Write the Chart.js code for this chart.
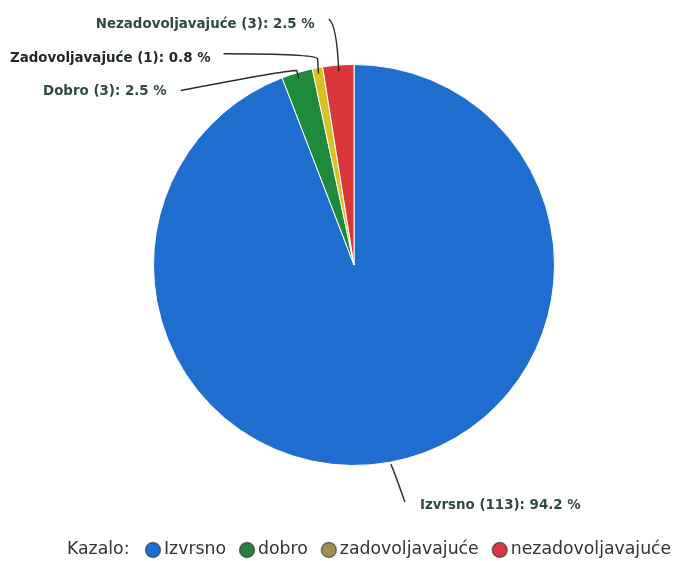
<!DOCTYPE html>
<html>
<head>
<meta charset="utf-8">
<script src="https://cdn.jsdelivr.net/npm/chart.js@4.4.0/dist/chart.umd.min.js"></script>
<style>
  html, body { margin: 0; padding: 0; background: #fff; }
  #wrap { width: 683px; height: 561px; }
</style>
</head>
<body>
<div id="wrap"><canvas id="pita" width="683" height="561"></canvas></div>
<script>
// podaci
const kategorije = ['Izvrsno', 'Dobro', 'Zadovoljavajuće', 'Nezadovoljavajuće']
const legendaNazivi = ['Izvrsno', 'dobro', 'zadovoljavajuće', 'nezadovoljavajuće']
const brojOcjena = [113, 3, 1, 3]
const boje = ['#1f6ecf', '#208a3c', '#d6c322', '#d8363b']
const bojeLegende = ['#1f6ecf', '#26813f', '#a38f4c', '#d23a44']

const ukupno = brojOcjena.reduce((a, b) => a + b, 0)

// oblik linija do natpisa (pomaci od ruba kriske) i poravnanje natpisa
// r = pomak od ruba kriske po polumjeru
const oblici = [
    { r: 2, tocke: [[5, 12], [14, 38]], tekst: [15, 3], align: 'left' },
    { r: -6, tocke: [[-2, -8], [-14, -8], [-118, 12]], tekst: [-14, 1], align: 'right' },
    { r: -6, tocke: [[-1, -15], [-3, -20], [-95, -20]], tekst: [-13, 5], align: 'right' },
    { r: -6, tocke: [[-2, -47], [-10, -52]], tekst: [-14, 5], align: 'right' }
]

const natpisi = {
    id: 'natpisi',
    afterDraw(chart) {
        const ctx = chart.ctx
        const meta = chart.getDatasetMeta(0)
        ctx.save()
        meta.data.forEach((arc, i) => {
            const p = arc.getProps(['x', 'y', 'startAngle', 'endAngle', 'outerRadius'], true)
            const kut = (p.startAngle + p.endAngle) / 2
            const o = oblici[i]
            const ex = p.x + Math.cos(kut) * (p.outerRadius + o.r)
            const ey = p.y + Math.sin(kut) * (p.outerRadius + o.r)
            ctx.strokeStyle = '#2b2b2b'
            ctx.lineWidth = 1.4
            ctx.beginPath()
            ctx.moveTo(ex, ey)
            let zx = ex, zy = ey
            if (o.tocke.length === 2) {
                const c = o.tocke[0], k = o.tocke[1]
                ctx.quadraticCurveTo(ex + c[0], ey + c[1], ex + k[0], ey + k[1])
                zx = ex + k[0]; zy = ey + k[1]
            } else {
                const a = o.tocke[0], b = o.tocke[1], k = o.tocke[2]
                ctx.lineTo(ex + a[0], ey + a[1])
                ctx.quadraticCurveTo(ex + b[0], ey + b[1], ex + k[0], ey + k[1])
                zx = ex + k[0]; zy = ey + k[1]
            }
            ctx.stroke()
            const postotak = (brojOcjena[i] / ukupno * 100).toFixed(1)
            const tekst = kategorije[i] + ' (' + brojOcjena[i] + '): ' + postotak + ' %'
            ctx.font = 'bold 13.4px "DejaVu Sans"'
            ctx.fillStyle = i === 2 ? '#1e2821' : '#2f4a3b'
            ctx.textAlign = o.align
            ctx.textBaseline = 'middle'
            ctx.fillText(tekst, zx + o.tekst[0], zy + o.tekst[1])
        })

        // kazalo (legenda)
        ctx.font = '17.3px "DejaVu Sans"'
        ctx.textBaseline = 'middle'
        ctx.textAlign = 'left'
        ctx.fillStyle = '#333'
        const ly = 550
        let x = 67
        ctx.fillText('Kazalo:', x, ly)
        x += 78
        legendaNazivi.forEach((naziv, i) => {
            ctx.beginPath()
            ctx.arc(x + 8, ly, 7.5, 0, Math.PI * 2)
            ctx.fillStyle = bojeLegende[i]
            ctx.fill()
            ctx.lineWidth = 1.5
            ctx.strokeStyle = 'rgba(40,40,40,0.55)'
            ctx.stroke()
            x += 19
            ctx.fillStyle = '#333'
            ctx.fillText(naziv, x, ly)
            x += ctx.measureText(naziv).width + 13
        })
        ctx.restore()
    }
}

new Chart(document.getElementById('pita'), {
    type: 'pie',
    data: {
        labels: kategorije,
        datasets: [{
            data: brojOcjena,
            backgroundColor: boje,
            borderColor: '#ffffff',
            borderWidth: 1
        }]
    },
    options: {
        responsive: false,
        animation: false,
        layout: { padding: { top: 64, bottom: 95, left: 153, right: 128 } },
        plugins: {
            legend: { display: false },
            tooltip: { enabled: false }
        }
    },
    plugins: [natpisi]
})
</script>
</body>
</html>
